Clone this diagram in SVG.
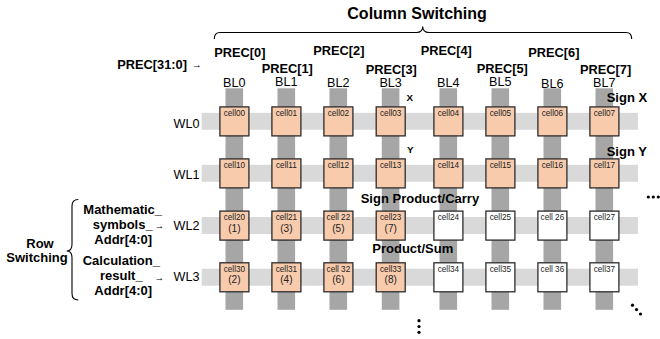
<svg xmlns="http://www.w3.org/2000/svg" width="660" height="339" viewBox="0 0 660 339">
  <style>
    text { font-family: "Liberation Sans", Arial, sans-serif; fill: #000; }
    .b { font-weight: bold; }
    .title { font-size: 16px; font-weight: bold; }
    .prec { font-size: 12.8px; font-weight: bold; }
    .bl { font-size: 12.6px; text-anchor: middle; }
    .wl { font-size: 12.6px; text-anchor: end; }
    .lbl { font-size: 13px; font-weight: bold; }
    .arr { font-size: 9.5px; }
    .cid { font-size: 8.2px; text-anchor: middle; fill: #222; }
    .num { font-size: 10px; text-anchor: middle; fill: #222; }
    .bitline { fill: #a6a6a6; }
    .wordline { fill: #d9d9d9; }
    .cell rect { stroke: #2b2b2b; stroke-width: 1.3; }
    .on rect { fill: #f8cbad; }
    .off rect { fill: #ffffff; }
    .brace { fill: none; stroke: #000; stroke-width: 1.1; }
    .dot { fill: #000; }
  </style>

  <!-- title and column brace -->
  <text class="title" x="347.3" y="18.7">Column Switching</text>
  <path class="brace" d="M214.3,39 C214.3,34.5 216,32.5 220,32.5 L416.5,32.5 C420.5,32.5 422.7,30.5 422.7,26.5 C422.7,30.5 425,32.5 429,32.5 L626,32.5 C630,32.5 631.7,34.5 631.7,39"/>

  <!-- precision select labels -->
  <text class="prec" x="117.3" y="69.3">PREC[31:0]</text>
  <text class="arr" x="192" y="68.3">→</text>
  <text class="prec" x="214.3" y="57.3">PREC[0]</text>
  <text class="prec" x="261.7" y="72.8">PREC[1]</text>
  <text class="prec" x="313.3" y="55">PREC[2]</text>
  <text class="prec" x="365.7" y="73.6">PREC[3]</text>
  <text class="prec" x="420.7" y="55">PREC[4]</text>
  <text class="prec" x="476.7" y="72.8">PREC[5]</text>
  <text class="prec" x="528.3" y="57.3">PREC[6]</text>
  <text class="prec" x="580" y="73.6">PREC[7]</text>

  <!-- bit line labels -->
  <text class="bl" x="234.3" y="87.3">BL0</text>
  <text class="bl" x="286.3" y="85.6">BL1</text>
  <text class="bl" x="338.3" y="87.3">BL2</text>
  <text class="bl" x="390.6" y="86.8">BL3</text>
  <text class="bl" x="448.3" y="87.3">BL4</text>
  <text class="bl" x="500.3" y="85.6">BL5</text>
  <text class="bl" x="552.3" y="88.3">BL6</text>
  <text class="bl" x="604.3" y="86.8">BL7</text>

  <!-- word lines and bit lines -->
  <g id="connectors">
    <rect class="wordline" x="201.7" y="112.8" width="436.3" height="17"/>
    <rect class="wordline" x="201.7" y="164.8" width="436.3" height="17"/>
    <rect class="wordline" x="201.7" y="217" width="436.3" height="17"/>
    <rect class="wordline" x="201.7" y="268.7" width="436.3" height="17"/>
    <rect class="bitline" x="225.5" y="88.3" width="17.6" height="221.5"/>
    <rect class="bitline" x="277.5" y="88.3" width="17.6" height="221.5"/>
    <rect class="bitline" x="329.5" y="88.3" width="17.6" height="221.5"/>
    <rect class="bitline" x="381.8" y="88.3" width="17.6" height="221.5"/>
    <rect class="bitline" x="439.5" y="88.3" width="17.6" height="221.5"/>
    <rect class="bitline" x="491.5" y="88.3" width="17.6" height="221.5"/>
    <rect class="bitline" x="543.5" y="88.3" width="17.6" height="221.5"/>
    <rect class="bitline" x="595.5" y="88.3" width="17.6" height="221.5"/>
  </g>

  <!-- word line labels -->
  <text class="wl" x="199.5" y="128.3">WL0</text>
  <text class="wl" x="199.5" y="179.3">WL1</text>
  <text class="wl" x="199.5" y="229.7">WL2</text>
  <text class="wl" x="199.5" y="281">WL3</text>

  <!-- row 0 -->
  <g id="cell00" class="cell on"><rect x="219.9" y="106.9" width="29" height="29"/><text class="cid" x="234.4" y="116">cell00</text></g>
  <g id="cell01" class="cell on"><rect x="271.9" y="106.9" width="29" height="29"/><text class="cid" x="286.4" y="116">cell01</text></g>
  <g id="cell02" class="cell on"><rect x="323.9" y="106.9" width="29" height="29"/><text class="cid" x="338.4" y="116">cell02</text></g>
  <g id="cell03" class="cell on"><rect x="376.2" y="106.9" width="29" height="29"/><text class="cid" x="390.7" y="116">cell03</text></g>
  <g id="cell04" class="cell on"><rect x="433.9" y="106.9" width="29" height="29"/><text class="cid" x="448.4" y="116">cell04</text></g>
  <g id="cell05" class="cell on"><rect x="485.9" y="106.9" width="29" height="29"/><text class="cid" x="500.4" y="116">cell05</text></g>
  <g id="cell06" class="cell on"><rect x="537.9" y="106.9" width="29" height="29"/><text class="cid" x="552.4" y="116">cell06</text></g>
  <g id="cell07" class="cell on"><rect x="589.9" y="106.9" width="29" height="29"/><text class="cid" x="604.4" y="116">cell07</text></g>

  <!-- row 1 -->
  <g id="cell10" class="cell on"><rect x="219.9" y="158.9" width="29" height="29"/><text class="cid" x="234.4" y="168">cell10</text></g>
  <g id="cell11" class="cell on"><rect x="271.9" y="158.9" width="29" height="29"/><text class="cid" x="286.4" y="168">cell11</text></g>
  <g id="cell12" class="cell on"><rect x="323.9" y="158.9" width="29" height="29"/><text class="cid" x="338.4" y="168">cell12</text></g>
  <g id="cell13" class="cell on"><rect x="376.2" y="158.9" width="29" height="29"/><text class="cid" x="390.7" y="168">cell13</text></g>
  <g id="cell14" class="cell on"><rect x="433.9" y="158.9" width="29" height="29"/><text class="cid" x="448.4" y="168">cell14</text></g>
  <g id="cell15" class="cell on"><rect x="485.9" y="158.9" width="29" height="29"/><text class="cid" x="500.4" y="168">cell15</text></g>
  <g id="cell16" class="cell on"><rect x="537.9" y="158.9" width="29" height="29"/><text class="cid" x="552.4" y="168">cell16</text></g>
  <g id="cell17" class="cell on"><rect x="589.9" y="158.9" width="29" height="29"/><text class="cid" x="604.4" y="168">cell17</text></g>

  <!-- row 2 -->
  <g id="cell20" class="cell on"><rect x="219.9" y="211.1" width="29" height="29"/><text class="cid" x="234.4" y="220.2">cell20</text><text class="num" x="234.4" y="231.5">(1)</text></g>
  <g id="cell21" class="cell on"><rect x="271.9" y="211.1" width="29" height="29"/><text class="cid" x="286.4" y="220.2">cell21</text><text class="num" x="286.4" y="231.5">(3)</text></g>
  <g id="cell22" class="cell on"><rect x="323.9" y="211.1" width="29" height="29"/><text class="cid" x="338.4" y="220.2">cell 22</text><text class="num" x="338.4" y="231.5">(5)</text></g>
  <g id="cell23" class="cell on"><rect x="376.2" y="211.1" width="29" height="29"/><text class="cid" x="390.7" y="220.2">cell23</text><text class="num" x="390.7" y="231.5">(7)</text></g>
  <g id="cell24" class="cell off"><rect x="433.9" y="211.1" width="29" height="29"/><text class="cid" x="448.4" y="220.2">cell24</text></g>
  <g id="cell25" class="cell off"><rect x="485.9" y="211.1" width="29" height="29"/><text class="cid" x="500.4" y="220.2">cell25</text></g>
  <g id="cell26" class="cell off"><rect x="537.9" y="211.1" width="29" height="29"/><text class="cid" x="552.4" y="220.2">cell 26</text></g>
  <g id="cell27" class="cell off"><rect x="589.9" y="211.1" width="29" height="29"/><text class="cid" x="604.4" y="220.2">cell27</text></g>

  <!-- row 3 -->
  <g id="cell30" class="cell on"><rect x="219.9" y="262.8" width="29" height="29"/><text class="cid" x="234.4" y="271.9">cell30</text><text class="num" x="234.4" y="283.2">(2)</text></g>
  <g id="cell31" class="cell on"><rect x="271.9" y="262.8" width="29" height="29"/><text class="cid" x="286.4" y="271.9">cell31</text><text class="num" x="286.4" y="283.2">(4)</text></g>
  <g id="cell32" class="cell on"><rect x="323.9" y="262.8" width="29" height="29"/><text class="cid" x="338.4" y="271.9">cell 32</text><text class="num" x="338.4" y="283.2">(6)</text></g>
  <g id="cell33" class="cell on"><rect x="376.2" y="262.8" width="29" height="29"/><text class="cid" x="390.7" y="271.9">cell33</text><text class="num" x="390.7" y="283.2">(8)</text></g>
  <g id="cell34" class="cell off"><rect x="433.9" y="262.8" width="29" height="29"/><text class="cid" x="448.4" y="271.9">cell34</text></g>
  <g id="cell35" class="cell off"><rect x="485.9" y="262.8" width="29" height="29"/><text class="cid" x="500.4" y="271.9">cell35</text></g>
  <g id="cell36" class="cell off"><rect x="537.9" y="262.8" width="29" height="29"/><text class="cid" x="552.4" y="271.9">cell 36</text></g>
  <g id="cell37" class="cell off"><rect x="589.9" y="262.8" width="29" height="29"/><text class="cid" x="604.4" y="271.9">cell37</text></g>

  <!-- data field annotations -->
  <text class="b" style="font-size:9.8px" x="406.5" y="100.7">X</text>
  <text class="b" style="font-size:9.8px" x="407" y="152.7">Y</text>
  <text class="lbl" x="606.7" y="101.7">Sign X</text>
  <text class="lbl" x="606.7" y="156">Sign Y</text>
  <text class="lbl" x="360.7" y="202.7">Sign Product/Carry</text>
  <text class="lbl" x="372.3" y="253.3">Product/Sum</text>

  <!-- row switching -->
  <text class="lbl" x="40" y="247.5" text-anchor="middle">Row</text>
  <text class="lbl" x="37" y="261.5" text-anchor="middle">Switching</text>
  <path class="brace" d="M78.3,199.5 C74,199.5 72,201.5 72,206 L72,244 C72,248.5 70,251 66.7,251 C70,251 72,253.5 72,258 L72,293.5 C72,298 74,300 78.3,300"/>
  <text class="lbl" x="83.3" y="213.5">Mathematic_</text>
  <text class="lbl" x="92.7" y="229">symbols_</text>
  <text class="lbl" x="94.3" y="244.3">Addr[4:0]</text>
  <text class="arr" x="154.5" y="228.8">→</text>
  <text class="lbl" x="82.7" y="264.5">Calculation_</text>
  <text class="lbl" x="100" y="280">result_</text>
  <text class="lbl" x="94.3" y="295">Addr[4:0]</text>
  <text class="arr" x="154.5" y="280.8">→</text>

  <!-- continuation dots -->
  <circle class="dot" cx="648.3" cy="197" r="1.6"/>
  <circle class="dot" cx="653.3" cy="197" r="1.6"/>
  <circle class="dot" cx="658.3" cy="197" r="1.6"/>
  <circle class="dot" cx="632.5" cy="305.2" r="1.6"/>
  <circle class="dot" cx="636.5" cy="309.6" r="1.6"/>
  <circle class="dot" cx="640.5" cy="314" r="1.6"/>
  <circle class="dot" cx="419" cy="320.7" r="1.6"/>
  <circle class="dot" cx="419" cy="326.5" r="1.6"/>
  <circle class="dot" cx="419" cy="332.3" r="1.6"/>
</svg>
